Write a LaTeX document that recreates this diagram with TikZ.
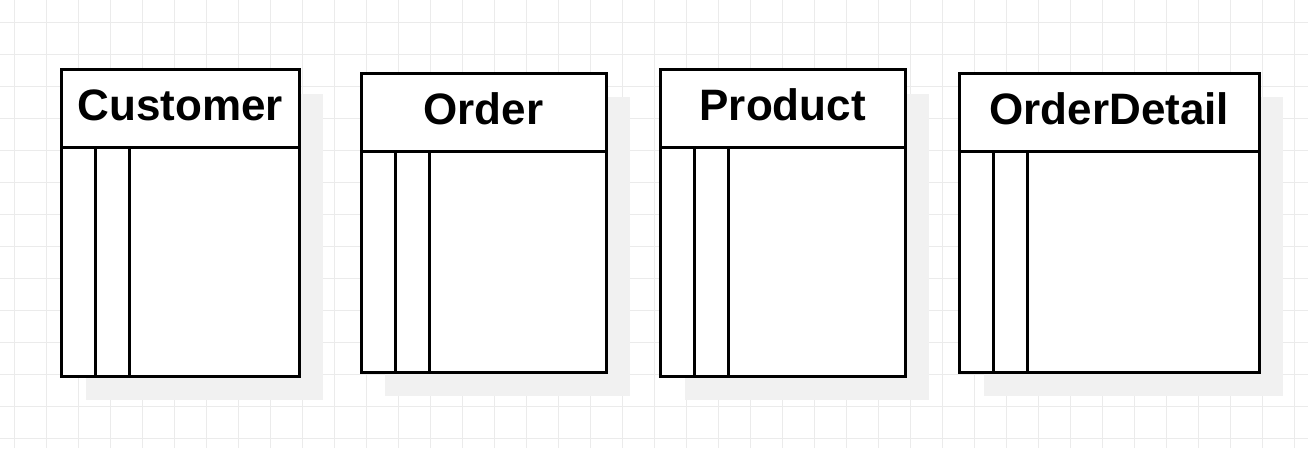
\documentclass[tikz,border=0pt]{standalone}
\usepackage{fontspec}
\setmainfont{Liberation Sans}
\definecolor{gridc}{HTML}{EBEBEB}
\definecolor{shadowc}{HTML}{F1F1F1}
\newcommand\erentity[7]{% name, left, top, right, bottom, header bottom, label
  \fill[shadowc] (#2+24,#3+24) rectangle (#4+24,#5+24);
  \node[ebox, anchor=north west, minimum width=#4-#2, minimum height=#6-#3] (#1-head) at (#2,#3) {};
  \node[ebox, anchor=north west, minimum width=#4-#2, minimum height=#5-#6] (#1-body) at (#2,#6) {};
  \draw[eline] ([xshift=34pt]#1-body.north west) -- ([xshift=34pt]#1-body.south west);
  \draw[eline] ([xshift=68pt]#1-body.north west) -- ([xshift=68pt]#1-body.south west);
  \node[etitle, anchor=base] (#1-title) at ({(#2+#4)/2},#3+51) {#7};
}
\begin{document}
\begin{tikzpicture}[x=1pt,y=-1pt,
  ebox/.style={draw=black, fill=white, line width=3pt, inner sep=0pt, outer sep=0pt},
  eline/.style={draw=black, line width=3pt},
  etitle/.style={font=\fontsize{44}{50}\selectfont\bfseries, inner sep=0pt}]
\useasboundingbox (0,0) rectangle (1308,448);
\fill[white] (0,0) rectangle (1308,448);
\foreach \i in {0,...,40} {
  \draw[gridc, line width=1pt] (14.7+32*\i,0) -- (14.7+32*\i,448);
}
\foreach \j in {0,...,13} {
  \draw[gridc, line width=1pt] (0,22.7+32*\j) -- (1308,22.7+32*\j);
}
\erentity{cust}{61.5}{69.5}{299}{376}{147.5}{Customer}
\erentity{ord}{361}{73}{606}{372}{151}{Order}
\erentity{prod}{660.5}{69.5}{905}{376}{147.5}{Product}
\erentity{odet}{959.5}{73}{1259}{372}{151}{OrderDetail}
\end{tikzpicture}
\end{document}
